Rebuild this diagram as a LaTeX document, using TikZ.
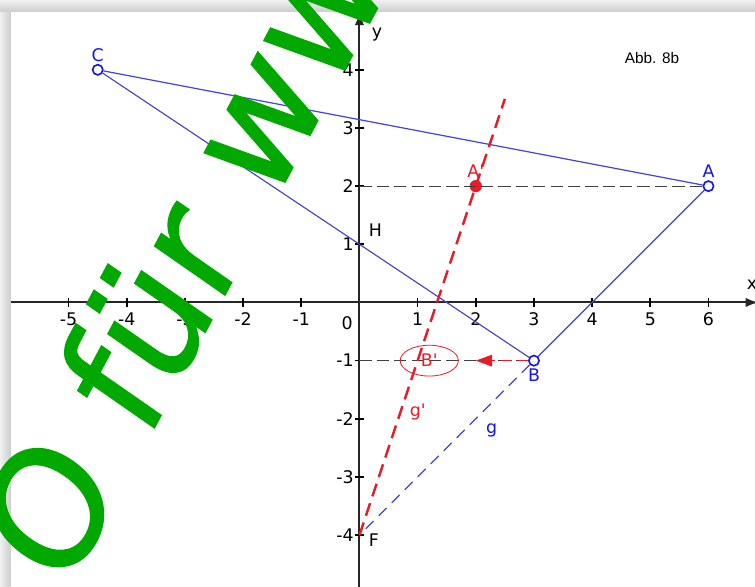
\documentclass[tikz,border=0pt]{standalone}
\usepackage{fontspec}
\setmainfont{DejaVu Sans}
\newfontfamily\abbfont{Liberation Sans}
\newfontfamily\wmfont[FakeBold=1]{DejaVu Sans}
\usetikzlibrary{arrows.meta,positioning,shapes.geometric,calc}
\definecolor{geoBlue}{RGB}{70,70,210}
\definecolor{ptBlue}{RGB}{20,20,235}
\definecolor{geoRed}{RGB}{228,30,40}
\definecolor{wmGreen}{RGB}{0,168,0}
\newcommand{\pr}{\textquotesingle}

\begin{document}
\begin{tikzpicture}[
  font=\fontsize{8.5}{10}\selectfont,
  axis/.style={line width=1pt, black!85, -{Latex[length=2.2mm, width=1.6mm]}},
  tri/.style={geoBlue, line width=0.6pt},
  help/.style={black!75, dash pattern=on 6pt off 2.5pt, line width=0.5pt},
  mirror/.style={geoRed, dash pattern=on 6.5pt off 3.5pt, line width=1.2pt},
  openpt/.style={circle, draw=ptBlue, fill=white, line width=0.8pt, inner sep=0pt, minimum size=5pt},
  fullpt/.style={circle, fill=geoRed, inner sep=0pt, minimum size=6pt},
]
% frame with shadow
\useasboundingbox (-6.18,-4.89) rectangle (6.80,5.20);
\fill[gray!30] (-6.18,-4.89) rectangle (6.80,5.20);
\shade[top color=gray!12, bottom color=gray!40] (-6.18,4.99) rectangle (6.80,5.20);
\shade[left color=gray!12, right color=gray!40] (-6.18,-4.89) rectangle (-5.99,4.99);
\fill[white] (-5.99,-4.89) rectangle (6.80,4.99);
% axes
\draw[axis] (-5.99,0) -- (6.86,0);
\draw[axis] (0,-4.95) -- (0,4.99);
\node at (6.75,0.3) {x};
\node at (0.3,4.6) {y};
\foreach \x in {-5,-4,-3,-2,-1,1,2,3,4,5,6}
  \draw[line width=0.8pt] (\x,-0.07) -- (\x,0.07) node[below=0.2cm, inner sep=1pt] {\x};
\foreach \y in {-4,-3,-2,-1,1,2,3,4}
  \draw[line width=0.8pt] (-0.07,\y) -- (0.07,\y) node[left=0.12cm, inner sep=1pt] {\y};
\node[inner sep=1pt] at (-0.21,-0.36) {0};
\node[font=\abbfont\fontsize{7.5}{9}\selectfont] at (5.03,4.2) {Abb. 8b};
% points
\node[openpt, label={[ptBlue, inner sep=1pt]above:C}] (C) at (-4.5,4) {};
\node[openpt, label={[ptBlue, inner sep=1pt]above:A}] (A) at (6,2) {};
\node[openpt, label={[ptBlue, inner sep=1pt]below:B}] (B) at (3,-1) {};
\node[fullpt, label={[geoRed, inner sep=1pt]above:A\pr}] (A1) at (2,2) {};
\coordinate (F) at (0,-4);
\coordinate (H) at (0,1);
\coordinate (Ay) at (0,2);
\coordinate (By) at (0,-1);
\coordinate (gtop) at (2.5,3.5);
\coordinate (tip) at (2,-1);
\node[right, inner sep=1pt] at ($(H)+(0.12,0.25)$) {H};
\node[right, inner sep=1pt] at ($(F)+(0.12,-0.08)$) {F};
% helper lines
\draw[help] (Ay) -- (A);
\draw[help] (By) -- (B);
\node[ellipse, draw=geoRed, text=geoRed, minimum width=1cm, minimum height=0.53cm, inner sep=0pt] (B1) at (1.2,-1) {B\pr};
\draw[geoRed, dash pattern=on 5pt off 3pt, line width=0.6pt, -{Triangle[length=2.8mm, width=2mm]}] (B) -- (tip);
% triangle and lines
\draw[tri] (C) -- (A) -- (B) -- (C);
\draw[geoBlue, dash pattern=on 5.5pt off 3.5pt, line width=0.6pt] (B) -- (F) node[pos=0.3, below right, ptBlue] {g};
\draw[mirror] (F) -- (gtop) node[pos=0.283, right=0.02cm, geoRed] {g\pr};
% watermark
\node[rotate=62, xslant=0.12, anchor=base west, inner sep=0pt, text=wmGreen, font=\wmfont\fontsize{76}{76}\selectfont] (mark) at (-5.05,-5.02) {O für www};
\end{tikzpicture}
\end{document}
